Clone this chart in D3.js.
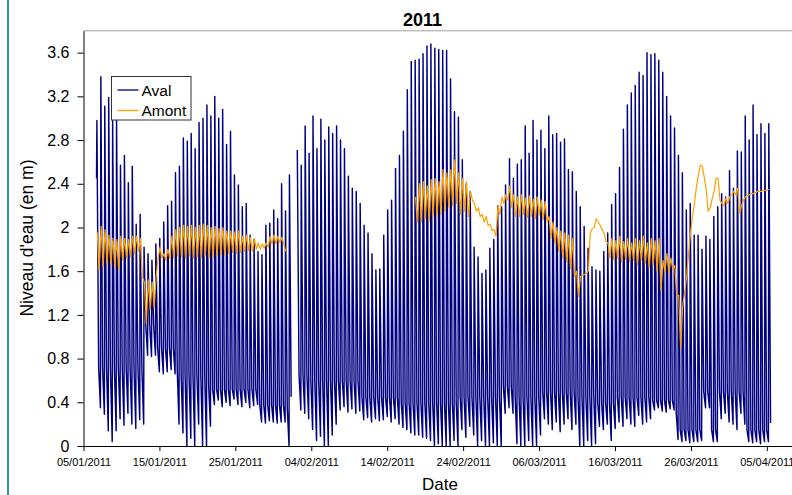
<!DOCTYPE html>
<html>
<head>
<meta charset="utf-8">
<script src="https://cdn.jsdelivr.net/npm/d3@7"></script>
<style>
  body { margin: 0; background: #fff; }
  svg { display: block; font-family: Arial, "Liberation Sans", sans-serif; }
</style>
</head>
<body>
<svg id="chart" width="792" height="495"></svg>
<script>
var title = "2011";
var seriesNames = ["Aval", "Amont"];
var seriesColors = ["#000080", "#FFA000"];
var xTitle = "Date";
var yTitle = "Niveau d'eau (en m)";
var xTickLabels = ["05/01/2011", "15/01/2011", "25/01/2011", "04/02/2011", "14/02/2011",
                   "24/02/2011", "06/03/2011", "16/03/2011", "26/03/2011", "05/04/2011"];
var yTickLabels = ["0", "0.4", "0.8", "1.2", "1.6", "2", "2.4", "2.8", "3.2", "3.6"];
var axisStart = "05/01/2011 00:00";
var axisEnd = "08/04/2011 07:30";
var yMax = 3.8;

// one entry per high tide (null = no record)
var tideStart = "06/01/2011 18:22";
var tideHours = 12.42;
var avalFirst = 2.45;

var avalHigh = [
  2.98, 3.38, 3.11, 3.19, 2.98, 3.00, 2.57, 2.66, 2.41, 2.56,
  2.03, 2.12, 1.82, 1.76, 1.70, 1.85, 1.90, 2.05, 2.20, 2.24,
  2.50, 2.56, 2.82, 2.79, 2.86, 2.72, 2.96, 3.00, 3.12, 3.02,
  3.20, 3.00, 3.08, 2.76, 2.88, 2.48, 2.39, 2.19, 2.22, 1.93,
  1.89, 1.78, 1.75, 2.02, 2.04, 2.16, 2.08, 2.40, 2.15, 2.48,
  null, 2.71, 2.57, 2.93, 2.68, 3.02, 2.72, 2.99, 2.80, 2.92,
  2.86, 2.93, 2.80, 2.72, 2.47, 2.36, 2.33, 2.22, 2.02, 1.95,
  1.76, 1.61, 1.62, 1.93, 2.16, 2.25, 2.54, 2.66, 2.88, 3.26,
  3.52, 3.53, 3.54, 3.59, 3.66, 3.68, 3.64, 3.63, 3.62, 3.62,
  3.36, 3.06, 3.01, 2.62, 2.40, 2.33, 1.82, 1.73, 1.58, 1.61,
  1.81, 1.89, 2.20, 2.19, 2.39, 2.63, 2.45, 2.58, 2.62, 2.93,
  2.68, 2.98, 2.80, 2.89, 2.72, 3.02, 2.85, 2.86, 2.78, 2.81,
  2.53, 2.51, 2.33, 2.19, 2.01, 1.81, 1.64, 1.61, 1.60, 1.78,
  1.95, 2.21, 2.31, 2.55, 2.90, 3.12, 3.23, 3.30, 3.42, 3.39,
  3.60, 3.58, 3.59, 3.53, 3.42, 3.20, 3.02, 2.91, 2.66, 2.50,
  2.16, 2.22, 1.93, 1.93, 1.80, 1.92, 1.89, 2.10, 2.19, 2.31,
  2.28, 2.52, 2.36, 2.70, 2.69, 3.02, 2.80, 3.12, 2.85, 2.95,
  2.86, 2.95
];

// level where the fast ebb ends
var avalKnee = [
  0.72, 0.72, 0.72, 0.72, 0.72, 0.72, 0.72, 0.72, 0.72, 0.72,
  0.72, 0.72, 1.10, 1.10, 1.10, 0.90, 0.90, 0.90, 0.90, 0.90,
  0.70, 0.65, 0.65, 0.65, 0.65, 0.65, 0.65, 0.65, 0.55, 0.52,
  0.52, 0.52, 0.52, 0.52, 0.52, 0.52, 0.52, 0.52, 0.52, 0.52,
  0.52, 0.38, 0.38, 0.38, 0.38, 0.38, 0.38, 0.38, 0.35, 0.45,
  null, 0.65, 0.65, 0.65, 0.60, 0.60, 0.60, 0.60, 0.60, 0.60,
  0.60, 0.60, 0.60, 0.60, 0.60, 0.60, 0.60, 0.45, 0.45, 0.45,
  0.45, 0.45, 0.45, 0.45, 0.45, 0.45, 0.45, 0.40, 0.40, 0.40,
  0.40, 0.40, 0.40, 0.40, 0.40, 0.40, 0.40, 0.40, 0.40, 0.40,
  0.40, 0.40, 0.45, 0.45, 0.45, 0.45, 0.45, 0.45, 0.45, 0.45,
  0.45, 0.45, 0.45, 0.55, 0.55, 0.55, 0.45, 0.45, 0.45, 0.45,
  0.45, 0.45, 0.45, 0.50, 0.50, 0.50, 0.50, 0.50, 0.50, 0.50,
  0.50, 0.50, 0.45, 0.45, 0.45, 0.45, 0.45, 0.40, 0.40, 0.40,
  0.40, 0.40, 0.45, 0.45, 0.45, 0.45, 0.45, 0.45, 0.45, 0.45,
  0.45, 0.42, 0.42, 0.42, 0.42, 0.42, 0.42, 0.30, 0.15, 0.15,
  0.15, 0.15, 0.15, 0.15, 0.50, 0.50, 0.15, 0.15, 0.50, 0.50,
  0.50, 0.50, 0.50, 0.50, 0.50, 0.15, 0.15, 0.15, 0.15, 0.15,
  0.15, 0.21
];

// low water just before the next flood
var avalLow = [
  0.35, 0.29, 0.14, 0.04, 0.14, 0.25, 0.19, 0.30, 0.20, 0.16,
  0.24, 0.20, 0.83, 0.82, 0.83, 0.68, 0.66, 0.68, 0.70, 0.66,
  0.20, 0.12, 0.00, 0.07, 0.00, 0.20, 0.00, 0.00, 0.18, 0.38,
  0.42, 0.36, 0.40, 0.37, 0.43, 0.38, 0.36, 0.40, 0.35, 0.37,
  0.38, 0.22, 0.21, 0.23, 0.22, 0.21, 0.22, 0.22, 0.00, null,
  null, 0.33, 0.30, 0.25, 0.15, 0.05, 0.09, 0.00, 0.00, 0.10,
  0.20, 0.33, 0.36, 0.31, 0.34, 0.30, 0.32, 0.24, 0.26, 0.22,
  0.25, 0.23, 0.24, 0.27, 0.22, 0.25, 0.20, 0.17, 0.15, 0.12,
  0.10, 0.10, 0.08, 0.07, 0.05, 0.00, 0.02, 0.00, 0.00, 0.00,
  0.05, 0.00, 0.15, 0.08, 0.18, 0.10, 0.00, 0.05, 0.00, 0.00,
  0.03, 0.00, 0.00, 0.30, 0.35, 0.30, 0.02, 0.00, 0.00, 0.05,
  0.00, 0.00, 0.10, 0.25, 0.20, 0.15, 0.22, 0.13, 0.20, 0.25,
  0.15, 0.20, 0.00, 0.00, 0.05, 0.00, 0.02, 0.18, 0.15, 0.20,
  0.05, 0.16, 0.22, 0.18, 0.25, 0.20, 0.18, 0.28, 0.20, 0.22,
  0.25, 0.33, 0.35, 0.32, 0.31, 0.34, 0.33, 0.06, 0.04, 0.05,
  0.03, 0.04, 0.04, 0.05, 0.35, 0.35, 0.04, 0.04, 0.25, 0.30,
  0.22, 0.20, 0.15, 0.30, 0.20, 0.04, 0.03, 0.04, 0.02, 0.04,
  0.04, null
];

var amontHigh = [
  1.96, 2.01, 1.98, 1.93, 1.90, 1.89, 1.92, 1.90, 1.89, 1.92,
  1.92, 1.90, 1.50, 1.52, 1.50, 1.55, 1.82, 1.76, 1.80, 1.92,
  1.98, 2.00, 2.02, 2.01, 2.02, 2.00, 2.02, 2.03, 2.02, 2.00,
  2.01, 1.99, 2.00, 1.97, 1.97, 1.96, 1.97, 1.92, 1.93, 1.91,
  1.90, 1.86, 1.85, 1.86, 1.92, 1.93, 1.92, 1.91, 1.78, null,
  null, null, null, null, null, null, null, null, null, null,
  null, null, null, null, null, null, null, null, null, null,
  null, null, null, null, null, null, null, null, null, null,
  null, 2.28, 2.40, 2.42, 2.38, 2.44, 2.45, 2.42, 2.53, 2.50,
  2.53, 2.62, 2.50, 2.45, 2.42, 2.33, 2.22, 2.18, 2.12, 2.10,
  2.03, 1.98, 2.20, 2.28, 2.30, 2.38, 2.30, 2.28, 2.30, 2.27,
  2.29, 2.26, 2.28, 2.25, 2.24, 2.10, 2.05, 2.00, 1.97, 1.95,
  1.93, 1.90, 1.60, 1.55, 1.57, 1.60, 1.99, 2.08, 2.02, 1.95,
  1.86, 1.90, 1.88, 1.92, 1.87, 1.90, 1.86, 1.90, 1.88, 1.92,
  1.86, 1.90, 1.88, 1.90, 1.70, 1.76, 1.72, 1.65, 1.38, 1.28,
  1.55, 1.95, 2.22, 2.48, 2.56, 2.34, 2.18, 2.33, 2.45, 2.22,
  2.27, 2.28, 2.33, 2.36, 2.20, 2.28, 2.30, 2.31, 2.33, 2.33,
  2.34, 2.35
];

var amontLow = [
  1.61, 1.64, 1.67, 1.66, 1.63, 1.61, 1.70, 1.72, 1.73, 1.76,
  1.78, 1.55, 1.12, 1.25, 1.27, 1.72, 1.72, 1.70, 1.72, 1.72,
  1.74, 1.73, 1.72, 1.74, 1.72, 1.73, 1.72, 1.74, 1.72, 1.73,
  1.74, 1.75, 1.74, 1.76, 1.77, 1.76, 1.77, 1.78, 1.79, 1.78,
  1.80, 1.80, 1.81, 1.82, 1.85, 1.85, 1.86, 1.85, null, null,
  null, null, null, null, null, null, null, null, null, null,
  null, null, null, null, null, null, null, null, null, null,
  null, null, null, null, null, null, null, null, null, null,
  null, 2.05, 2.05, 2.08, 2.05, 2.10, 2.10, 2.12, 2.15, 2.18,
  2.20, 2.22, 2.12, 2.15, 2.10, 2.25, 2.15, 2.10, 2.05, 2.02,
  1.97, 1.92, 2.12, 2.22, 2.25, 2.18, 2.10, 2.10, 2.12, 2.09,
  2.10, 2.08, 2.11, 2.07, 2.05, 1.90, 1.85, 1.78, 1.72, 1.68,
  1.62, 1.55, 1.37, 1.56, 1.58, 1.95, 2.00, 2.05, 1.98, 1.87,
  1.72, 1.70, 1.72, 1.68, 1.71, 1.69, 1.70, 1.66, 1.70, 1.67,
  1.63, 1.66, 1.60, 1.43, 1.60, 1.58, 1.62, 1.37, 0.89, 1.40,
  1.75, 2.10, 2.37, 2.57, 2.46, 2.15, 2.26, 2.45, 2.25, 2.20,
  2.22, 2.30, 2.30, 2.13, 2.25, 2.29, 2.31, 2.32, 2.33, 2.34,
  2.34, null
];

const MARGIN = {left: 83.5, top: 30.8, right: 792, bottom: 446};
const HOUR = 3600 * 1000;

var parseDay = d3.utcParse("%d/%m/%Y");
var parseTime = d3.utcParse("%d/%m/%Y %H:%M");
var t0 = parseTime(tideStart).getTime();

// time of a sample, in hours after the i-th high tide
function tideTime(i, hours) {
    return new Date(t0 + (i * tideHours + hours) * HOUR);
}

// aval: fast flood, ebb down to the knee, then slow drain to low water
var avalPoints = [{t: tideTime(0, -1.2), v: avalFirst}];
avalHigh.forEach(function(h, i) {
    avalPoints.push({t: tideTime(i, 0), v: h});
    avalPoints.push({t: tideTime(i, 5.5), v: avalKnee[i]});
    avalPoints.push({t: tideTime(i, 11.2), v: avalLow[i]});
});

var amontPoints = [];
amontHigh.forEach(function(h, i) {
    amontPoints.push({t: tideTime(i, 1), v: h});
    amontPoints.push({t: tideTime(i, 7), v: amontLow[i]});
});

var svg = d3.select("svg#chart");

svg.append("rect")
    .attr("width", 792).attr("height", 495)
    .attr("fill", "#fff");

// left border of the frame
svg.append("line")
    .attr("x1", 8).attr("x2", 8)
    .attr("y1", 0).attr("y2", 495)
    .attr("stroke", "#339999")
    .attr("stroke-width", 2);

var xscale = d3.scaleUtc()
    .domain([parseTime(axisStart), parseTime(axisEnd)])
    .range([MARGIN.left, MARGIN.right]);

var yscale = d3.scaleLinear()
    .domain([0, yMax])
    .range([MARGIN.bottom, MARGIN.top]);

svg.append("clipPath").attr("id", "plot_clip")
    .append("rect")
    .attr("x", MARGIN.left).attr("y", MARGIN.top)
    .attr("width", MARGIN.right - MARGIN.left)
    .attr("height", MARGIN.bottom - MARGIN.top);

// top border of the plot area
svg.append("line")
    .attr("x1", MARGIN.left).attr("x2", MARGIN.right)
    .attr("y1", MARGIN.top).attr("y2", MARGIN.top)
    .attr("stroke", "#a0a0a0");

var line = d3.line()
    .defined(d => d.v != null)
    .x(d => xscale(d.t))
    .y(d => yscale(d.v));

var g = svg.append("g").attr("clip-path", "url(#plot_clip)");

g.append("path")
    .datum(avalPoints)
    .attr("fill", "none")
    .attr("stroke", seriesColors[0])
    .attr("stroke-width", 1.45)
    .attr("stroke-linejoin", "round")
    .attr("d", line);

g.append("path")
    .datum(amontPoints)
    .attr("fill", "none")
    .attr("stroke", seriesColors[1])
    .attr("stroke-width", 1.2)
    .attr("stroke-linejoin", "round")
    .attr("d", line);

var yaxis = d3.axisLeft(yscale)
    .tickValues(yTickLabels.map(Number))
    .tickFormat((d, i) => yTickLabels[i])
    .tickSize(6)
    .tickPadding(8)
    .tickSizeOuter(0);

var yg = svg.append("g")
    .attr("transform", "translate(" + MARGIN.left + ",0)")
    .call(yaxis);
yg.selectAll("text").attr("font-size", 16).attr("fill", "#000");

var xaxis = d3.axisBottom(xscale)
    .tickValues(xTickLabels.map(parseDay))
    .tickFormat((d, i) => xTickLabels[i])
    .tickSize(5)
    .tickPadding(7)
    .tickSizeOuter(0);

var xg = svg.append("g")
    .attr("transform", "translate(0," + MARGIN.bottom + ")")
    .call(xaxis);
xg.selectAll("text").attr("font-size", 11).attr("fill", "#000");

svg.selectAll(".domain, .tick line").attr("stroke", "#000");

// titles
svg.append("text")
    .attr("x", 422.5).attr("y", 26)
    .attr("text-anchor", "middle")
    .attr("font-size", 18)
    .attr("font-weight", "bold")
    .text(title);

svg.append("text")
    .attr("transform", "translate(33,238) rotate(-90)")
    .attr("text-anchor", "middle")
    .attr("font-size", 17.5)
    .text(yTitle);

svg.append("text")
    .attr("x", 440).attr("y", 490)
    .attr("text-anchor", "middle")
    .attr("font-size", 17)
    .text(xTitle);

// legend
var legend = svg.append("g").attr("transform", "translate(111.5,76.5)");
legend.append("rect")
    .attr("width", 79.5).attr("height", 43.5)
    .attr("fill", "#fff")
    .attr("stroke", "#333");

seriesNames.forEach(function(name, i) {
    var ly = 13.5 + i * 20.5;
    legend.append("line")
        .attr("x1", 6).attr("x2", 27)
        .attr("y1", ly).attr("y2", ly)
        .attr("stroke", seriesColors[i])
        .attr("stroke-width", 1.3);
    legend.append("text")
        .attr("x", 30).attr("y", ly + 5.5)
        .attr("font-size", 15.5)
        .text(name);
});
</script>
</body>
</html>
